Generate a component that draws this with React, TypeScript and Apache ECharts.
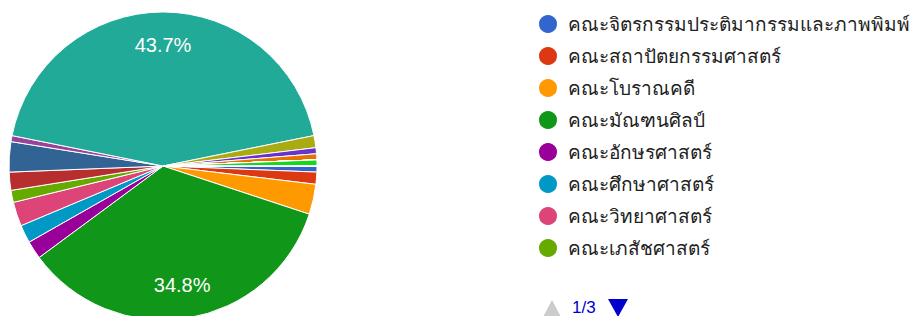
import React, { useEffect, useRef } from "react";
import * as echarts from "echarts";

const names = [
  "คณะจิตรกรรมประติมากรรมและภาพพิมพ์",
  "คณะสถาปัตยกรรมศาสตร์",
  "คณะโบราณคดี",
  "คณะมัณฑนศิลป์",
  "คณะอักษรศาสตร์",
  "คณะศึกษาศาสตร์",
  "คณะวิทยาศาสตร์",
  "คณะเภสัชศาสตร์",
  "คณะวิศวกรรมศาสตร์และเทคโนโลยีอุตสาหกรรม",
  "คณะดุริยางคศาสตร์",
  "คณะสัตวศาสตร์และเทคโนโลยีการเกษตร",
  "คณะวิทยาการจัดการ",
  "คณะเทคโนโลยีสารสนเทศและการสื่อสาร",
  "วิทยาลัยนานาชาติ",
  "บัณฑิตวิทยาลัย",
  "สำนักงานอธิการบดี",
  "สำนักหอสมุดกลาง",
  "สำนักดิจิทัลเทคโนโลยี",
  "หอศิลป์",
  "สถาบันวิจัยและพัฒนา",
  "ศูนย์บริการวิชาการ",
  "บุคคลภายนอก",
  "ศิษย์เก่า",
  "อื่น ๆ",
];

const values = [1, 2, 5, 55, 3, 3, 4, 2, 3, 5, 1, 69, 2, 1, 1, 0, 0, 0, 0, 0, 0, 1, 0, 0];

const colors = [
  "#3366cc", "#dc3912", "#ff9900", "#109618", "#990099", "#0099c6", "#dd4477", "#66aa00",
  "#b82e2e", "#316395", "#994499", "#22aa99", "#aaaa11", "#6633cc", "#e67300", "#8b0707",
  "#651067", "#329262", "#5574a6", "#3b3eac", "#b77322", "#16d620", "#b91383", "#f4359e",
];

const legendPageSize = 8;

export default function App() {
  const ref = useRef<HTMLDivElement>(null);
  useEffect(() => {
    if (!ref.current) return;
    const chart = echarts.init(ref.current, undefined, { renderer: "svg" });
    const total = values.reduce((a, b) => a + b, 0);
    const pages = Math.ceil(names.length / legendPageSize);
    const center = [163, 166];
    chart.setOption({
      animation: false,
      color: colors,
      legend: {
        type: "plain",
        orient: "vertical",
        left: 537,
        top: 13,
        padding: 0,
        itemWidth: 30,
        itemHeight: 20,
        itemGap: 10,
        icon: "circle",
        data: names.slice(0, legendPageSize),
        textStyle: { fontSize: 19, lineHeight: 20, color: "#212121", fontFamily: "Roboto, Arial, sans-serif" },
      },
      graphic: [
        {
          type: "polygon",
          shape: { points: [[543, 317], [552, 300], [561, 317]] },
          style: { fill: "#cccccc" },
        },
        {
          type: "text",
          left: 572,
          top: 299,
          style: { text: `1/${pages}`, fill: "#0000cc", fontSize: 17, fontFamily: "Arial, sans-serif" },
        },
        {
          type: "polygon",
          shape: { points: [[608, 299], [628, 299], [618, 317]] },
          style: { fill: "#0000cc" },
        },
      ],
      series: [
        {
          type: "pie",
          center,
          radius: 154,
          startAngle: 0,
          clockwise: true,
          avoidLabelOverlap: false,
          label: { show: false },
          labelLine: { show: false },
          itemStyle: { borderColor: "#ffffff", borderWidth: 1 },
          data: names.map((n, i) => ({ name: n, value: values[i], itemStyle: { color: colors[i] } })),
        },
        {
          type: "pie",
          center,
          radius: [82, 154],
          startAngle: 0,
          clockwise: true,
          silent: true,
          avoidLabelOverlap: false,
          itemStyle: { color: "rgba(0,0,0,0)", borderWidth: 0 },
          labelLine: { show: false },
          label: {
            show: true,
            position: "inside",
            color: "#ffffff",
            fontSize: 20,
            fontFamily: "Arial, sans-serif",
            formatter: (p: any) => {
              const pct = (p.value / total) * 100;
              return pct > 5 ? pct.toFixed(1) + "%" : "";
            },
          },
          data: names.map((n, i) => ({ name: n, value: values[i] })),
        },
      ],
    });
    return () => chart.dispose();
  }, []);
  return (
    <div
      ref={ref}
      style={{ position: "fixed", left: 0, top: 0, width: 914, height: 316, background: "#ffffff" }}
    />
  );
}
